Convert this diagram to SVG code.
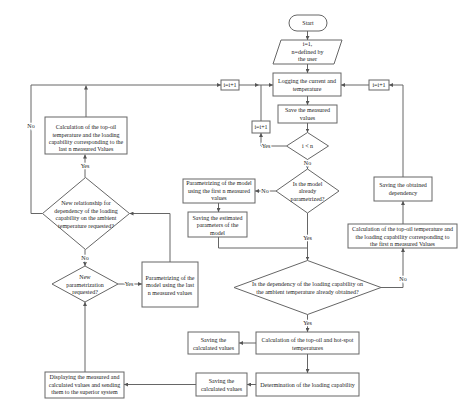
<svg xmlns="http://www.w3.org/2000/svg" width="474" height="415" viewBox="0 0 474 415">
<defs>
<marker id="ah" viewBox="0 0 6 6" refX="6" refY="3" markerWidth="4" markerHeight="4" orient="auto" markerUnits="userSpaceOnUse">
<path d="M0,0 L6,3 L0,6 Z" fill="#555"/>
</marker>
<style>
.n{fill:#fff;stroke:#666;stroke-width:1}
.t{font-family:"Liberation Serif","Times New Roman",serif;font-size:6px;fill:#222;text-anchor:middle}
.c path{fill:none;stroke:#666;stroke-width:1}
.a{marker-end:url(#ah)}
.l{font-family:"Liberation Serif","Times New Roman",serif;font-size:6px;fill:#222;text-anchor:middle;paint-order:stroke;stroke:#fff;stroke-width:2.5px}
</style>
</defs>
<rect width="474" height="415" fill="#fff"/>
<g class="c" id="connectors">
<path class="a" d="M307.5,31 V40"/>
<path class="a" d="M307.5,64 V73"/>
<path class="a" d="M307.5,96 V105"/>
<path class="a" d="M307.5,123 V132.5"/>
<path class="a" d="M286.5,146 H261 V133"/>
<path d="M261,121 V85"/>
<path class="a" d="M239,85 H259"/>
<path class="a" d="M259,85 H273"/>
<path class="a" d="M307.5,159.5 V169"/>
<path class="a" d="M276,191 H255"/>
<path class="a" d="M218.5,203 V212"/>
<path d="M218.5,237 V248 H307.5"/>
<path class="a" d="M307.5,213 V260.5"/>
<path class="a" d="M381,287.5 H403 V248"/>
<path class="a" d="M403,224 V201"/>
<path class="a" d="M403,177 V85 H389"/>
<path class="a" d="M369,85 H341"/>
<path class="a" d="M307.5,314.5 V332"/>
<path class="a" d="M256,343 H239"/>
<path class="a" d="M307.5,354 V373"/>
<path class="a" d="M256,384.5 H247"/>
<path class="a" d="M196,384.5 H124"/>
<path class="a" d="M85,372 V302"/>
<path class="a" d="M118,284 H142"/>
<path class="a" d="M170,262 V213.5 H129.5"/>
<path class="a" d="M85,249.5 V266"/>
<path class="a" d="M85,177.5 V154.5"/>
<path class="a" d="M42.5,213.5 H31 V85 H221"/>
<path class="a" d="M86,117 V85.5"/>
<text class="l" x="266" y="148">Yes</text>
<text class="l" x="307.5" y="165">No</text>
<text class="l" x="265" y="193">No</text>
<text class="l" x="307.5" y="239.5">Yes</text>
<text class="l" x="403" y="281">No</text>
<text class="l" x="307.5" y="325">Yes</text>
<text class="l" x="129" y="286">Yes</text>
<text class="l" x="85" y="260">No</text>
<text class="l" x="85" y="168">Yes</text>
<text class="l" x="31" y="128">No</text>
</g>
<g id="start"><rect class="n" x="289" y="15" width="38" height="16" rx="8"/><text class="t" x="308" y="25">Start</text></g>
<g id="init"><polygon class="n" points="281,40 342,40 334,64 273,64"/><text class="t" x="307.5" y="46">i=1,</text><text class="t" x="307.5" y="53.5">n=defined by</text><text class="t" x="307.5" y="61">the user</text></g>
<g id="logging"><rect class="n" x="273" y="73" width="68" height="23"/><text class="t" x="307" y="83">Logging the current and</text><text class="t" x="307" y="90.5">temperature</text></g>
<g id="save-measured"><rect class="n" x="278" y="105" width="59" height="18"/><text class="t" x="307.5" y="112">Save the measured</text><text class="t" x="307.5" y="119.5">values</text></g>
<g id="i-lt-n"><polygon class="n" points="307.5,132.5 328.5,146 307.5,159.5 286.5,146"/><text class="t" x="307.5" y="148">i &lt; n</text></g>
<g id="inc-lower"><rect class="n" x="252" y="121" width="18" height="12"/><text class="t" x="261" y="129">i=i+1</text></g>
<g id="inc-left"><rect class="n" x="221" y="80" width="18" height="10"/><text class="t" x="230" y="87">i=i+1</text></g>
<g id="inc-right"><rect class="n" x="369" y="80" width="20" height="10"/><text class="t" x="379" y="87">i=i+1</text></g>
<g id="model-param"><polygon class="n" points="307.5,169 339,191 307.5,213 276,191"/><text class="t" x="307.5" y="185.5">Is the model</text><text class="t" x="307.5" y="193">already</text><text class="t" x="307.5" y="200.5">parametrized?</text></g>
<g id="param-first"><rect class="n" x="183" y="179" width="72" height="24"/><text class="t" x="219" y="185">Parametrizing of the model</text><text class="t" x="219" y="192.5">using the first n measured</text><text class="t" x="219" y="200">values</text></g>
<g id="save-est"><rect class="n" x="188" y="212" width="59" height="25"/><text class="t" x="217.5" y="219.5">Saving the estimated</text><text class="t" x="217.5" y="227">parameters of the</text><text class="t" x="217.5" y="234.5">model</text></g>
<g id="save-dep"><rect class="n" x="374" y="177" width="58" height="24"/><text class="t" x="403" y="186.5">Saving the obtained</text><text class="t" x="403" y="194.5">dependency</text></g>
<g id="calc-first"><rect class="n" x="348" y="224" width="109" height="24"/><text class="t" x="402.5" y="231">Calculation of the top-oil temperature and</text><text class="t" x="402.5" y="238.5">the loading capability corresponding to</text><text class="t" x="402.5" y="246">the first n measured Values</text></g>
<g id="dep-obtained"><polygon class="n" points="307.5,260.5 381,287.5 307.5,314.5 234,287.5"/><text class="t" x="307.5" y="286">Is the dependency of the loading capability on</text><text class="t" x="307.5" y="294">the ambient temperature already obtained?</text></g>
<g id="calc-hotspot"><rect class="n" x="256" y="332" width="103" height="22"/><text class="t" x="307.5" y="341.5">Calculation of the top-oil and hot-spot</text><text class="t" x="307.5" y="349.5">temperatures</text></g>
<g id="save-calc1"><rect class="n" x="188" y="332" width="51" height="22"/><text class="t" x="213.5" y="341.5">Saving the</text><text class="t" x="213.5" y="349.5">calculated values</text></g>
<g id="determination"><rect class="n" x="256" y="373" width="103" height="23"/><text class="t" x="307.5" y="387">Determination of the loading capability</text></g>
<g id="save-calc2"><rect class="n" x="196" y="373" width="51" height="23"/><text class="t" x="221.5" y="383">Saving the</text><text class="t" x="221.5" y="390.5">calculated values</text></g>
<g id="display"><rect class="n" x="45" y="372" width="79" height="26"/><text class="t" x="84.5" y="379">Displaying the measured and</text><text class="t" x="84.5" y="386.5">calculated values and sending</text><text class="t" x="84.5" y="394">them to the superior system</text></g>
<g id="calc-last"><rect class="n" x="45" y="117" width="82" height="37"/><text class="t" x="86" y="129">Calculation of the top-oil</text><text class="t" x="86" y="136.5">temperature and the loading</text><text class="t" x="86" y="144">capability corresponding to the</text><text class="t" x="86" y="151">last n measured Values</text></g>
<g id="new-rel"><polygon class="n" points="85.5,177.5 129.5,213.5 85.5,249.5 42.5,213.5"/><text class="t" x="86" y="205">New relationship for</text><text class="t" x="86" y="212.5">dependency of the loading</text><text class="t" x="86" y="220">capability on the ambient</text><text class="t" x="86" y="227.5">temperature requested?</text></g>
<g id="new-param"><polygon class="n" points="85,266 118,284 85,302 52,284"/><text class="t" x="85" y="279">New</text><text class="t" x="85" y="286.5">parametrization</text><text class="t" x="85" y="293.5">requested?</text></g>
<g id="param-last"><rect class="n" x="142" y="262" width="56" height="45"/><text class="t" x="170" y="279.5">Parametrizing of the</text><text class="t" x="170" y="287">model using the last</text><text class="t" x="170" y="294.5">n measured values</text></g>
</svg>
